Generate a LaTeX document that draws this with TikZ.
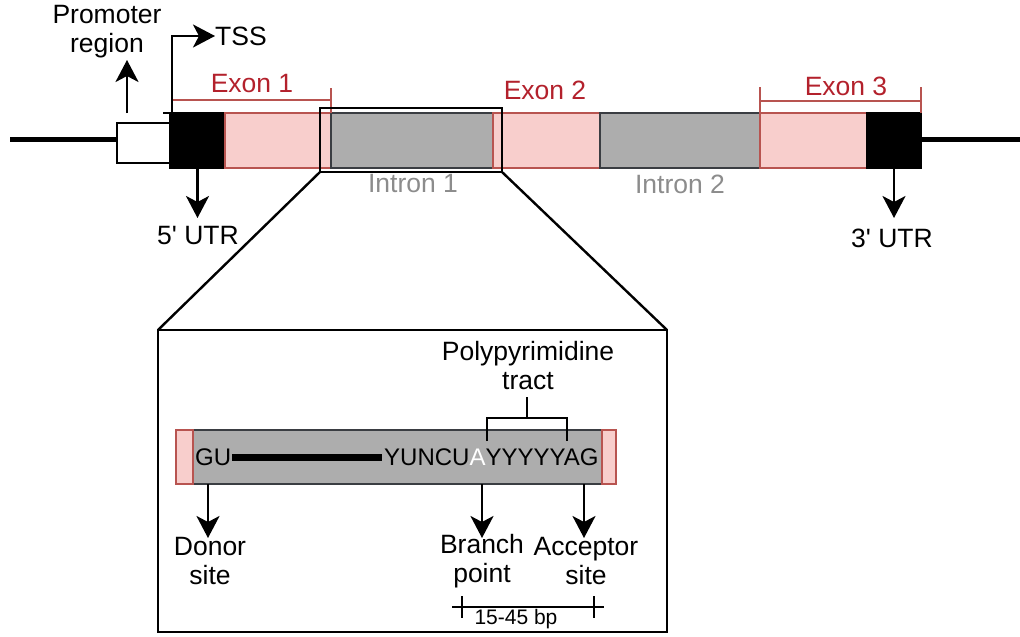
\documentclass[tikz,border=0pt]{standalone}
\usepackage{fontspec}
\setmainfont{Liberation Sans}
\usetikzlibrary{arrows.meta,calc}
\definecolor{exfill}{HTML}{F8CECC}
\definecolor{exline}{HTML}{B85450}
\definecolor{exlabel}{HTML}{B3212C}
\definecolor{infill}{HTML}{ADADAD}
\definecolor{inline}{HTML}{3A3D42}
\definecolor{inlabel}{HTML}{8C8C8C}
\tikzset{
  seg/.style={draw, line width=1.5pt, inner sep=0pt, outer sep=0pt, minimum height=55pt},
  exon/.style={seg, fill=exfill, draw=exline},
  intron/.style={seg, fill=infill, draw=inline},
  utr/.style={seg, fill=black, draw=black},
  txt/.style={font=\fontsize{26.5}{29}\selectfont, inner sep=0pt, align=center},
  seq/.style={font=\fontsize{24}{28}\selectfont, inner sep=0pt},
  ptr/.style={line width=2.5pt, arrows={-Stealth[length=22pt,width=23pt,inset=6pt]}},
  brk/.style={draw=exline, line width=1.6pt},
  dna/.style={line width=5pt},
  frame/.style={draw, line width=2.8pt, inner sep=0pt, outer sep=0pt},
}
\begin{document}
\begin{tikzpicture}[x=1pt,y=-1pt]
\useasboundingbox (0,0) rectangle (1020,637);

% ---- gene ----
\node[draw, line width=1.5pt, fill=white, minimum width=53pt, minimum height=40pt,
      inner sep=0pt, outer sep=0pt] (prom) at (143.5,143) {};
\node[utr, minimum width=55pt] (utr5) at (197.5,140.5) {};
\node[exon, minimum width=106pt] (ex1) at (278,140.5) {};
\node[intron, minimum width=162pt] (in1) at (412,140.5) {};
\node[exon, minimum width=107pt] (ex2) at (546.5,140.5) {};
\node[intron, minimum width=160pt] (in2) at (680,140.5) {};
\node[exon, minimum width=107pt] (ex3) at (813.5,140.5) {};
\node[utr, minimum width=54pt] (utr3) at (894,140.5) {};

\coordinate (lend) at (10,139);
\coordinate (rend) at (1020,139);
\draw[dna] (lend) -- (lend -| prom.west);
\draw[dna] (utr3.east |- rend) -- (rend);

% exon brackets and labels
\draw[brk] (172,88) -- (172,113);
\draw[brk] (331,88) -- (331,113);
\draw[brk] (172,100) -- (331,100);
\draw[brk] (760,87) -- (760,113);
\draw[brk] (921,87) -- (921,113);
\draw[brk] (760,101) -- (921,101);
\node[txt, text=exlabel] (ex1l) at (252,84) {Exon 1};
\node[txt, text=exlabel] (ex2l) at (545,90) {Exon 2};
\node[txt, text=exlabel] (ex3l) at (846,86) {Exon 3};

% intron labels
\node[txt, text=inlabel] (in1l) at (413,184) {Intron 1};
\node[txt, text=inlabel] (in2l) at (680,184) {Intron 2};

% promoter and TSS
\node[txt] (promlbl) at (107,32) {Promoter\\region};
\draw[ptr] (127,113) -- (127,60);
\node[txt, anchor=west] (tss) at (215,36) {TSS};
\coordinate (tss0) at (163,113);
\draw[ptr] (tss0) -- (172,113) -- (172,36) -- (tss.west);

% UTR pointers
\node[txt] (utr5l) at (198,236) {5\textquotesingle{} UTR};
\node[txt] (utr3l) at (892,238) {3\textquotesingle{} UTR};
\draw[ptr] (utr5.south) -- ++(0,50);
\draw[ptr] (utr3.south) -- ++(0,50);

% magnified region
\node[frame, minimum width=182pt, minimum height=64pt] (zbox) at (411,140) {};
\node[draw, line width=2.4pt, inner sep=0pt, outer sep=0pt,
      minimum width=509pt, minimum height=302pt] (bigbox) at (412.5,481) {};
\draw[line width=2.4pt] (zbox.south west) -- (bigbox.north west);
\draw[line width=2.4pt] (zbox.south east) -- (bigbox.north east);

% ---- intron detail ----
\node[intron, minimum width=409pt, minimum height=54pt] (ig) at (397.5,457) {};
\node[exon, minimum width=17pt, minimum height=54pt] (ipl) at (184.5,457) {};
\node[exon, minimum width=14pt, minimum height=54pt] (ipr) at (609,457) {};

\node[seq, anchor=west] (gu) at (195,457) {GU};
\node[seq, anchor=west] (motif) at (384,457) {YUNCU\textcolor{white}{A}YYYYYAG};
\draw[line width=7pt, shorten <=1pt, shorten >=2pt] (gu.east) -- (motif.west);

% polypyrimidine tract bracket
\draw[line width=2.4pt] (487,441) -- (487,418) -- (567,418) -- (567,441);
\draw[line width=2.4pt] (527,418) -- (527,397);
\node[txt] (ppt) at (528,366) {Polypyrimidine\\tract};

% site pointers
\coordinate (dtop) at (208,484);
\coordinate (btop) at (482,484);
\coordinate (atop) at (584,484);
\node[txt] (donor) at (210,561) {Donor\\site};
\node[txt] (branch) at (482,561) {Branch\\point};
\node[txt] (acc) at (586,561) {Acceptor\\site};
\draw[ptr] (dtop) -- ++(0,54);
\draw[ptr] (btop) -- ++(0,54);
\draw[ptr] (atop) -- ++(0,54);

% distance scale
\draw[line width=2.4pt] (452,607) -- (604,607);
\draw[line width=2.4pt] (462,596) -- (462,618);
\draw[line width=2.4pt] (594,596) -- (594,618);
\node[font=\fontsize{21}{24}\selectfont, inner sep=0pt] (bp) at (516,619) {15-45 bp};
\end{tikzpicture}
\end{document}
